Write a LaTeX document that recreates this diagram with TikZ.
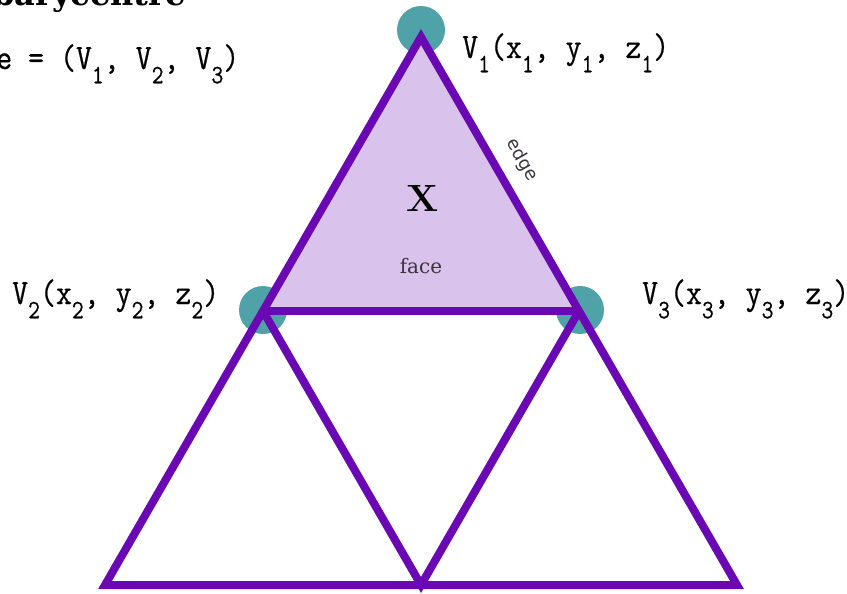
\documentclass[tikz,border=0pt]{standalone}
\usepackage{fontspec}
\newfontfamily\serifA{DejaVu Serif}
\newfontfamily\sansA{DejaVu Sans}
\newfontfamily\monoA[FakeBold=0.6]{Latin Modern Mono}
\definecolor{edgepurple}{RGB}{106,8,180}
\definecolor{facefill}{RGB}{217,194,236}
\definecolor{vertteal}{RGB}{79,163,168}
\definecolor{facetext}{RGB}{60,50,60}
\newcommand\lsub[1]{\raisebox{-0.40em}{\fontsize{23}{23}\selectfont #1}}
\newcommand\tallmono[1]{\scalebox{1}[1.15]{#1}}
\tikzset{
  vdot/.style={fill=vertteal},
  edgeline/.style={draw=edgepurple, line width=8pt, line join=miter},
  vlabel/.style={anchor=base west, inner sep=0pt, font=\monoA\fontsize{31}{34}\selectfont},
}
\begin{document}
\begin{tikzpicture}[x=1pt,y=-1pt]
\useasboundingbox (0,0) rectangle (847,594);
% vertices
\coordinate (A) at (421,37);
\coordinate (B) at (263,311);
\coordinate (C) at (579,311);
\coordinate (L) at (105,585);
\coordinate (M) at (421,585);
\coordinate (R) at (737,585);
% vertex dots
\fill[vdot] (421,30) circle (24pt);
\fill[vdot] (263,310) circle (24pt);
\fill[vdot] (580,310) circle (24pt);
% face
\fill[facefill] (A) -- (B) -- (C) -- cycle;
% edges
\draw[edgeline] (A) -- (L) -- (R) -- cycle;
\draw[edgeline] (B) -- (C);
\draw[edgeline] (B) -- (M) -- (C);
% labels
\node[vlabel] (l1) at (462,58) {\tallmono{V\lsub{1}(x\lsub{1}, y\lsub{1}, z\lsub{1})}};
\node[vlabel] (l2) at (12,304) {\tallmono{V\lsub{2}(x\lsub{2}, y\lsub{2}, z\lsub{2})}};
\node[vlabel] (l3) at (642,304) {\tallmono{V\lsub{3}(x\lsub{3}, y\lsub{3}, z\lsub{3})}};
\node[vlabel] (fdef) at (-4,69) {\tallmono{e = (V\lsub{1}, V\lsub{2}, V\lsub{3})}};
\node[anchor=base east, inner sep=0pt, font=\serifA\bfseries\fontsize{32}{34}\selectfont] (title) at (186,6) {barycentre};
\node[inner sep=0pt, font=\bfseries\fontsize{38}{38}\selectfont] (x) at (423,198) {X};
\node[inner sep=0pt, text=facetext, font=\serifA\fontsize{20}{21}\selectfont] (face) at (421,266) {face};
\node[inner sep=0pt, rotate=-60, text=facetext, font=\sansA\fontsize{18}{19}\selectfont] (edge) at (522,160) {edge};
\end{tikzpicture}
\end{document}
